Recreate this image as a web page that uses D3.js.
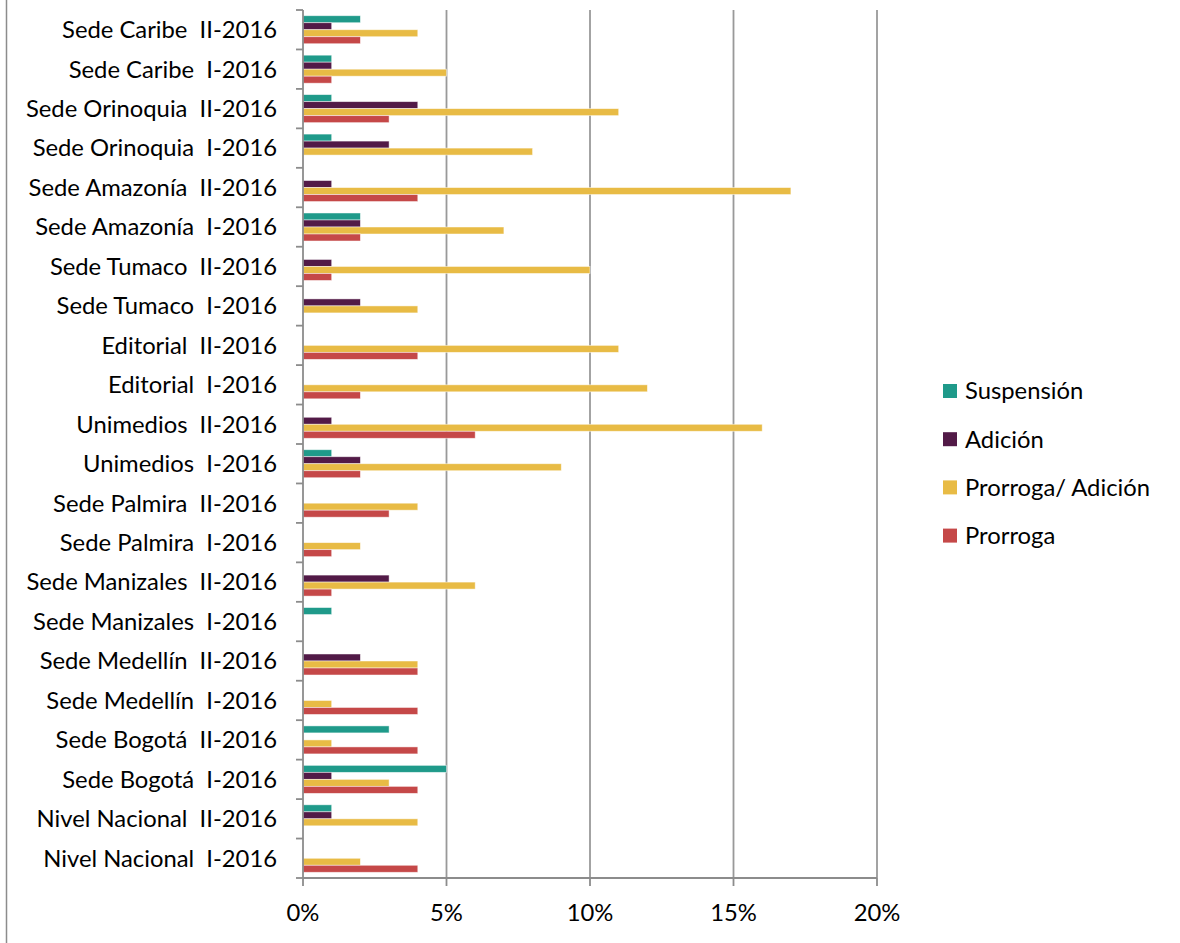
<!DOCTYPE html>
<html>
<head>
<meta charset="utf-8">
<script src="https://cdn.jsdelivr.net/npm/d3@7"></script>
<style>
    body { margin: 0; background: #fff; }
    text { font-family: Lato, "Open Sans", sans-serif; fill: #000; }
</style>
</head>
<body>
<div id="chart"></div>
<script>
// categories, top to bottom
const categories = [
    "Sede Caribe  II-2016", "Sede Caribe  I-2016",
    "Sede Orinoquia  II-2016", "Sede Orinoquia  I-2016",
    "Sede Amazonía  II-2016", "Sede Amazonía  I-2016",
    "Sede Tumaco  II-2016", "Sede Tumaco  I-2016",
    "Editorial  II-2016", "Editorial  I-2016",
    "Unimedios  II-2016", "Unimedios  I-2016",
    "Sede Palmira  II-2016", "Sede Palmira  I-2016",
    "Sede Manizales  II-2016", "Sede Manizales  I-2016",
    "Sede Medellín  II-2016", "Sede Medellín  I-2016",
    "Sede Bogotá  II-2016", "Sede Bogotá  I-2016",
    "Nivel Nacional  II-2016", "Nivel Nacional  I-2016"
];
const seriesNames = ["Suspensión", "Adición", "Prorroga/ Adición", "Prorroga"];
const seriesColors = ["#1f9a8a", "#521a47", "#e8bb45", "#c54848"];

// values in %
const suspension      = [2, 1, 1, 1, 0, 2, 0, 0, 0, 0, 0, 1, 0, 0, 0, 1, 0, 0, 3, 5, 1, 0];
const adicion         = [1, 1, 4, 3, 1, 2, 1, 2, 0, 0, 1, 2, 0, 0, 3, 0, 2, 0, 0, 1, 1, 0];
const prorrogaAdicion = [4, 5, 11, 8, 17, 7, 10, 4, 11, 12, 16, 9, 4, 2, 6, 0, 4, 1, 1, 3, 4, 2];
const prorroga        = [2, 1, 3, 0, 4, 2, 1, 0, 4, 2, 6, 2, 3, 1, 1, 0, 4, 4, 4, 4, 0, 4];

const xTicks = [0, 5, 10, 15, 20];

const seriesValues = [suspension, adicion, prorrogaAdicion, prorroga];
let data = categories.map((c, i) => ({
    category: c,
    values: seriesNames.map((s, j) => ({series: s, value: seriesValues[j][i]}))
}));

//Dimensions
let width = 1180, height = 943;
let plot = {left: 303, right: 877, top: 10, bottom: 878};
let fontSize = "23.8px";

let svg = d3.select("#chart").append("svg")
    .attr("width", width).attr("height", height);

//Scales
let x = d3.scaleLinear().domain([0, 20]).range([plot.left, plot.right]);
let y0 = d3.scaleBand().domain(categories).range([plot.top, plot.bottom])
    .paddingInner(0.29).paddingOuter(0.145);
let y1 = d3.scaleBand().domain(seriesNames).range([0, y0.bandwidth()]);
let color = d3.scaleOrdinal().domain(seriesNames).range(seriesColors);

//Left frame border
svg.append("line")
    .attr("x1", 6.5).attr("x2", 6.5).attr("y1", 0).attr("y2", height)
    .attr("stroke", "#8c8c8c").attr("stroke-width", 1.5);

//Gridlines
svg.append("g").selectAll("line").data(xTicks.slice(1)).enter().append("line")
    .attr("x1", d => x(d)).attr("x2", d => x(d))
    .attr("y1", plot.top).attr("y2", plot.bottom)
    .attr("stroke", "#999").attr("stroke-width", 1.8);

//Bars
let groups = svg.append("g").selectAll("g").data(data).enter().append("g")
    .attr("transform", d => "translate(0," + y0(d.category) + ")");

groups.selectAll("rect").data(d => d.values.filter(v => v.value > 0)).enter().append("rect")
    .attr("x", x(0))
    .attr("y", d => y1(d.series))
    .attr("width", d => x(d.value) - x(0))
    .attr("height", y1.bandwidth())
    .attr("fill", d => color(d.series))
    .attr("stroke", "#fff").attr("stroke-opacity", 0.6).attr("stroke-width", 0.8);

//Y axis
let yStep = y0.step();
let yAxis = svg.append("g").attr("class", "y-axis");
yAxis.append("line")
    .attr("x1", plot.left).attr("x2", plot.left)
    .attr("y1", plot.top).attr("y2", plot.bottom)
    .attr("stroke", "#8c8c8c").attr("stroke-width", 1.8);
yAxis.selectAll(".tick").data(d3.range(categories.length + 1)).enter().append("line")
    .attr("x1", plot.left - 7).attr("x2", plot.left)
    .attr("y1", i => plot.top + i * yStep).attr("y2", i => plot.top + i * yStep)
    .attr("stroke", "#8c8c8c").attr("stroke-width", 1.8);
yAxis.selectAll("text").data(categories).enter().append("text")
    .attr("x", 277)
    .attr("y", d => y0(d) + y0.bandwidth() / 2)
    .attr("dy", "0.35em")
    .attr("text-anchor", "end")
    .attr("font-size", fontSize)
    .style("white-space", "pre")
    .text(d => d);

//X axis
let xAxis = svg.append("g").attr("class", "x-axis");
xAxis.append("line")
    .attr("x1", plot.left).attr("x2", plot.right)
    .attr("y1", plot.bottom).attr("y2", plot.bottom)
    .attr("stroke", "#8c8c8c").attr("stroke-width", 1.8);
xAxis.selectAll(".tick").data(xTicks).enter().append("line")
    .attr("x1", d => x(d)).attr("x2", d => x(d))
    .attr("y1", plot.bottom).attr("y2", plot.bottom + 8)
    .attr("stroke", "#8c8c8c").attr("stroke-width", 1.8);
xAxis.selectAll("text").data(xTicks).enter().append("text")
    .attr("x", d => x(d))
    .attr("y", 913)
    .attr("dy", "0.35em")
    .attr("text-anchor", "middle")
    .attr("font-size", fontSize)
    .text(d => d + "%");

//Legend
let legend = svg.append("g").selectAll("g").data(seriesNames).enter().append("g")
    .attr("transform", (d, i) => "translate(943," + (391 + i * 48.2) + ")");
legend.append("rect")
    .attr("x", 0).attr("y", -7).attr("width", 14).attr("height", 14)
    .attr("fill", d => color(d));
legend.append("text")
    .attr("x", 22).attr("y", 0).attr("dy", "0.35em")
    .attr("font-size", fontSize)
    .text(d => d);
</script>
</body>
</html>
